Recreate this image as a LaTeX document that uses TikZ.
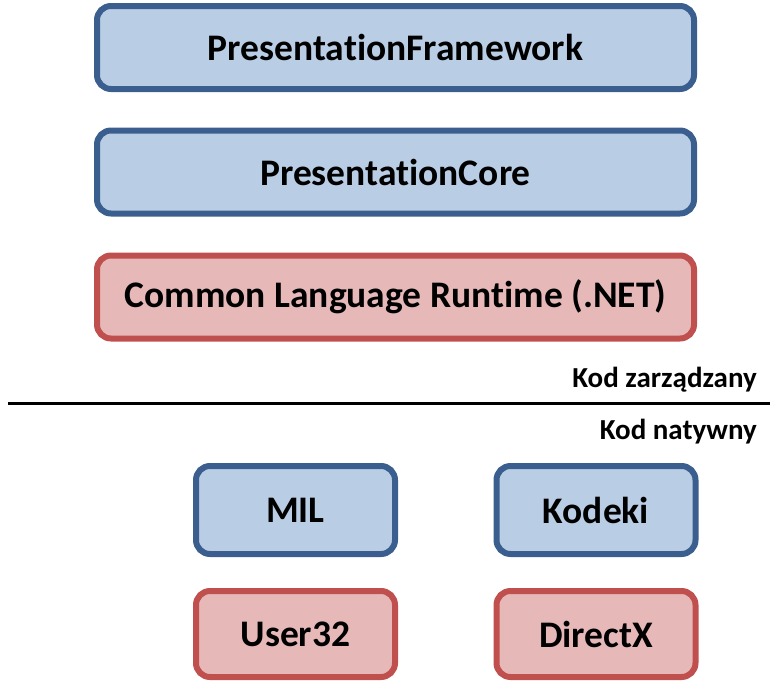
\documentclass[tikz,border=0pt]{standalone}
\usepackage{fontspec}
\setmainfont[Ligatures=NoCommon]{Carlito}
\usepackage{xcolor}

\definecolor{bluefill}{HTML}{B9CDE5}
\definecolor{blueline}{HTML}{3A5F8E}
\definecolor{redfill}{HTML}{E6B9B8}
\definecolor{redline}{HTML}{C0504D}

\tikzset{
	warstwa/.style={rounded corners=14pt,line width=6pt,font=\fontsize{37.5}{42}\selectfont\bfseries,inner sep=0pt},
	niebieski/.style={warstwa,draw=blueline,fill=bluefill},
	czerwony/.style={warstwa,draw=redline,fill=redfill},
	szeroki/.style={minimum width=597pt,minimum height=83pt},
	maly/.style={minimum width=199pt,minimum height=88pt},
	opis/.style={font=\fontsize{29}{32}\selectfont\bfseries,anchor=east,inner sep=0pt}
}

\begin{document}
\begin{tikzpicture}[x=1pt,y=-1pt]
	\useasboundingbox (0,0) rectangle (779,683);
	% kod zarzadzany
	\node[niebieski,szeroki] (framework) at (395.5,47.5) {PresentationFramework};
	\node[niebieski,szeroki] (core) at (395.5,172) {PresentationCore};
	\node[czerwony,szeroki] (clr) at (395.5,297) {Common Language Runtime (.NET)};
	% granica
	\coordinate (lewy) at (8,403);
	\coordinate (prawy) at (770,403);
	\draw[line width=3pt] (lewy)--(prawy);
	\node[opis] (zarzadzany) at (757,380) {Kod zarządzany};
	\node[opis] (natywny) at (757,432) {Kod natywny};
	% kod natywny
	\node[niebieski,maly] (mil) at (295.5,510) {MIL};
	\node[niebieski,maly] (kodeki) at (596,510) {Kodeki};
	\node[czerwony,maly,minimum height=86pt] (user) at (295.5,634) {User32};
	\node[czerwony,maly,minimum height=86pt] (directx) at (596,634) {DirectX};
\end{tikzpicture}
\end{document}
